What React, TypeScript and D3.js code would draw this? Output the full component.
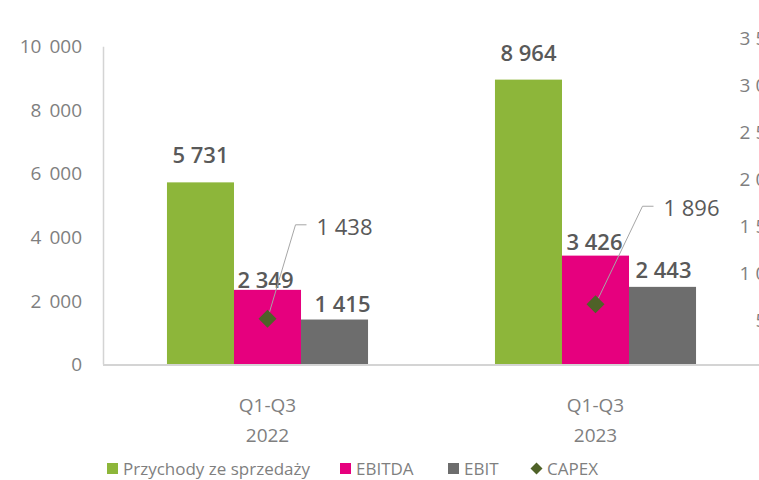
import React from "react";
import * as d3 from "d3";

const categories = ["Q1-Q3|2022", "Q1-Q3|2023"];
const seriesNames = ["Przychody ze sprzedaży", "EBITDA", "EBIT"];
const revenue = [5731, 8964];
const ebitda = [2349, 3426];
const ebit = [1415, 2443];
const capex = [1438, 1896];
const leftTicks = [0, 2000, 4000, 6000, 8000, 10000];
const rightTicks = [500, 1000, 1500, 2000, 2500, 3000, 3500];

const colors = ["#8db63a", "#e6007e", "#6d6d6d"];
const capexColor = "#4f6228";
// label nudges (style, px) per [category][series]
const labelNudge = [
  [[0, -27], [-2, -10], [8, -15]],
  [[0, -26], [-1, -13], [1, -17]],
];

const W = 759;
const H = 480;
const fmt = (v: number) => d3.format(",")(v).replace(/,/g, " ");

export default function App() {
  const x = d3.scaleBand<string>().domain(categories).range([103.5, 759.5]).paddingInner(0.387).paddingOuter(0.1935);
  const xs = d3.scaleBand<string>().domain(seriesNames).range([0, x.bandwidth()]).padding(0);
  const y = d3.scaleLinear().domain([0, 10000]).range([364.5, 46.7]);
  const yR = d3.scaleLinear().domain([0, 3500]).range([367, 38]);
  const values = [revenue, ebitda, ebit];
  const axisFont = "'Open Sans', sans-serif";

  const diamond = (cx: number, cy: number, r: number) =>
    `M${cx},${cy - r}L${cx + r},${cy}L${cx},${cy + r}L${cx - r},${cy}Z`;

  const legendItems = [
    { name: seriesNames[0], color: colors[0], x: 107, type: "sq" },
    { name: seriesNames[1], color: colors[1], x: 340, type: "sq" },
    { name: seriesNames[2], color: colors[2], x: 448, type: "sq" },
    { name: "CAPEX", color: capexColor, x: 531, type: "dia" },
  ];

  return (
    <svg width={W} height={H} style={{ display: "block", position: "absolute", left: 0, top: 0 }} fontFamily={axisFont}>
      <rect width={W} height={H} fill="#fff" />
      {/* left axis labels */}
      {leftTicks.map((t) => (
        <text key={t} x={82} y={y(t)} dy="0.35em" textAnchor="end" fontSize={19} fill="#7f7f7f" style={{ wordSpacing: "3px" }}>
          {fmt(t)}
        </text>
      ))}
      {/* right axis labels (cut off at the edge, as in the reference) */}
      {rightTicks.map((t) => (
        <text key={t} x={788} y={yR(t)} dy="0.35em" textAnchor="end" fontSize={19} fill="#7f7f7f">
          {fmt(t)}
        </text>
      ))}
      {/* bars */}
      {categories.map((c, ci) =>
        values.map((vals, si) => {
          const bx = (x(c) as number) + (xs(seriesNames[si]) as number);
          return (
            <rect key={c + si} x={bx} y={y(vals[ci])} width={xs.bandwidth()} height={y(0) - y(vals[ci])} fill={colors[si]} />
          );
        })
      )}
      {/* axis lines */}
      <line x1={103.5} x2={103.5} y1={y(10000)} y2={y(0)} stroke="#d4d4d4" strokeWidth={1.5} />
      <line x1={103} x2={W} y1={y(0) + 0.5} y2={y(0) + 0.5} stroke="#d4d4d4" strokeWidth={2} />
      {/* bar labels */}
      {categories.map((c, ci) =>
        values.map((vals, si) => {
          const bx = (x(c) as number) + (xs(seriesNames[si]) as number) + xs.bandwidth() / 2;
          const [nx, ny] = labelNudge[ci][si];
          return (
            <text key={"l" + c + si} x={bx + nx} y={y(vals[ci]) + ny} dy="0.35em" textAnchor="middle" fontSize={22} fontWeight={600} fill="#595959">
              {fmt(vals[ci])}
            </text>
          );
        })
      )}
      {/* CAPEX markers with leader lines */}
      {categories.map((c, ci) => {
        const cx = (x(c) as number) + (xs(seriesNames[1]) as number) + xs.bandwidth() / 2;
        const cy = y(capex[ci]);
        const ex = cx + (ci === 0 ? 28 : 47);
        const ey = cy - (ci === 0 ? 94 : 98);
        return (
          <g key={"cap" + c}>
            <polyline points={`${cx},${cy} ${ex},${ey} ${ex + 11},${ey}`} fill="none" stroke="#a6a6a6" strokeWidth={1} />
            <path d={diamond(cx, cy, 9)} fill={capexColor} />
            <text x={ex + 21} y={ey + 2} dy="0.35em" fontSize={22} fill="#595959">
              {fmt(capex[ci])}
            </text>
          </g>
        );
      })}
      {/* category labels */}
      {categories.map((c) => {
        const cx = (x(c) as number) + x.bandwidth() / 2;
        const [l1, l2] = c.split("|");
        return (
          <g key={"cat" + c}>
            <text x={cx} y={405} dy="0.35em" textAnchor="middle" fontSize={19} fill="#7f7f7f">{l1}</text>
            <text x={cx} y={435} dy="0.35em" textAnchor="middle" fontSize={19} fill="#7f7f7f">{l2}</text>
          </g>
        );
      })}
      {/* legend */}
      {legendItems.map((it) => (
        <g key={it.name}>
          {it.type === "sq" ? (
            <rect x={it.x} y={463} width={11} height={11} fill={it.color} />
          ) : (
            <path d={diamond(it.x + 5.5, 468.5, 6)} fill={it.color} />
          )}
          <text x={it.x + 16} y={469} dy="0.35em" fontSize={17} fill="#7f7f7f">{it.name}</text>
        </g>
      ))}
    </svg>
  );
}
